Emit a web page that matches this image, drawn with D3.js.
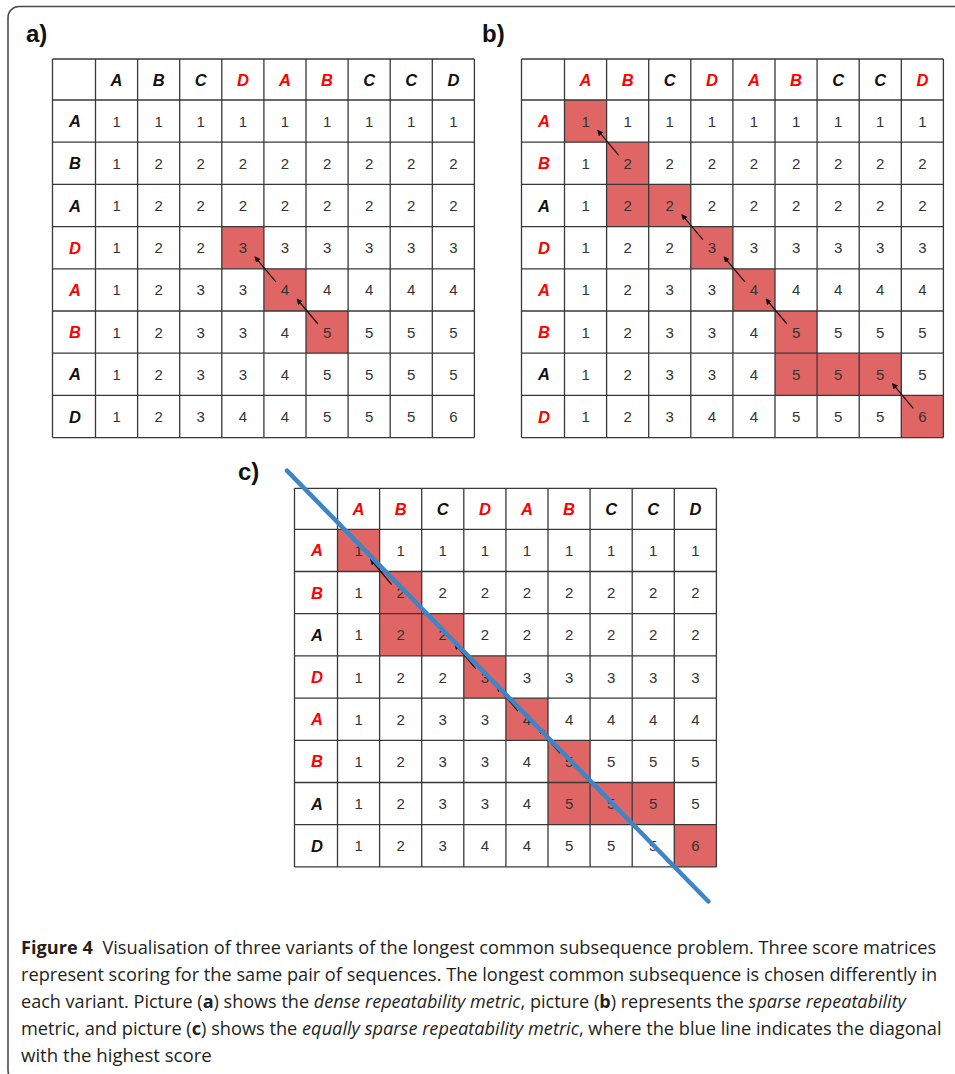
<!DOCTYPE html>
<html>
<head>
<meta charset="utf-8">
<script src="https://cdn.jsdelivr.net/npm/d3@7"></script>
<style>
  html, body { margin: 0; padding: 0; background: #fff; }
  svg { display: block; }
</style>
</head>
<body>
<svg id="fig" width="955" height="1074"></svg>
<script>
// Sequences compared in every score matrix
const colLetters = ["A", "B", "C", "D", "A", "B", "C", "C", "D"];
const rowLetters = ["A", "B", "A", "D", "A", "B", "A", "D"];

// LCS score matrix (rows × columns)
const scores = [
  [1, 1, 1, 1, 1, 1, 1, 1, 1],
  [1, 2, 2, 2, 2, 2, 2, 2, 2],
  [1, 2, 2, 2, 2, 2, 2, 2, 2],
  [1, 2, 2, 3, 3, 3, 3, 3, 3],
  [1, 2, 3, 3, 4, 4, 4, 4, 4],
  [1, 2, 3, 3, 4, 5, 5, 5, 5],
  [1, 2, 3, 3, 4, 5, 5, 5, 5],
  [1, 2, 3, 4, 4, 5, 5, 5, 6]
];

// Letters printed in red, per variant
const redColsA = [3, 4, 5];
const redRowsA = [3, 4, 5];
const redColsB = [0, 1, 3, 4, 5, 8];
const redRowsB = [0, 1, 3, 4, 5, 7];
const redColsC = [0, 1, 3, 4, 5];
const redRowsC = [0, 1, 3, 4, 5];

// Highlighted cells [row, col]
const cellsA = [[3, 3], [4, 4], [5, 5]];
const cellsB = [[0, 0], [1, 1], [2, 1], [2, 2], [3, 3], [4, 4], [5, 5], [6, 5], [6, 6], [6, 7], [7, 8]];
const cellsC = cellsB;

// Traceback arrows [fromRow, fromCol, toRow, toCol]
const arrowsA = [[4, 4, 3, 3], [5, 5, 4, 4]];
const arrowsB = [[1, 1, 0, 0], [3, 3, 2, 2], [4, 4, 3, 3], [5, 5, 4, 4], [7, 8, 6, 7]];
const arrowsC = [[1, 1, 0, 0], [3, 3, 2, 2], [4, 4, 3, 3], [5, 5, 4, 4]];

// Best diagonal in variant c, in grid units [col, row]
const diagonalC = [[-1.2, -1.39], [8.81, 8.82]];

const panelLabels = ["a)", "b)", "c)"];

const captionLines = [
  [["Figure 4", "b"], ["  Visualisation of three variants of the longest common subsequence problem. Three score matrices", ""]],
  [["represent scoring for the same pair of sequences. The longest common subsequence is chosen differently in", ""]],
  [["each variant. Picture (", ""], ["a", "b"], [") shows the ", ""], ["dense repeatability metric", "i"], [", picture (", ""], ["b", "b"], [") represents the ", ""], ["sparse repeatability", "i"]],
  [["metric, and picture (", ""], ["c", "b"], [") shows the ", ""], ["equally sparse repeatability metric", "i"], [", where the blue line indicates the diagonal", ""]],
  [["with the highest score", ""]]
];
const captionWidths = [916, 917, 886, 921, 191];

// ---------------------------------------------------------------
const svg = d3.select("#fig");
const RED = "#ff0000", FILL = "#e06666", GRID = "#383838";
const HDR_W = 43, HDR_H = 41, CW = 42.1, CH = 42.2;

svg.append("rect").attr("width", 955).attr("height", 1074).attr("fill", "#fff");

// outer figure frame
svg.append("rect")
  .attr("x", 8).attr("y", 6.5)
  .attr("width", 990).attr("height", 1075)
  .attr("rx", 11).attr("ry", 11)
  .attr("fill", "none").attr("stroke", "#4a4a4a").attr("stroke-width", 1.6);

const defs = svg.append("defs");
defs.append("marker")
  .attr("id", "head")
  .attr("viewBox", "0 0 10 10")
  .attr("refX", 9).attr("refY", 5)
  .attr("markerWidth", 6).attr("markerHeight", 6)
  .attr("markerUnits", "userSpaceOnUse")
  .attr("orient", "auto")
  .append("path").attr("d", "M0,0 L10,5 L0,10 Z").attr("fill", "#111");

function drawPanel(opt) {
  const g = svg.append("g");
  const nC = colLetters.length, nR = rowLetters.length;
  const x = d3.scaleLinear().domain([0, nC]).range([opt.x0 + HDR_W, opt.x0 + HDR_W + nC * CW]);
  const y = d3.scaleLinear().domain([0, nR]).range([opt.y0 + HDR_H, opt.y0 + HDR_H + nR * CH]);

  // highlighted cells
  g.selectAll("rect.hl").data(opt.cells).join("rect")
    .attr("class", "hl")
    .attr("x", d => x(d[1])).attr("y", d => y(d[0]))
    .attr("width", CW).attr("height", CH)
    .attr("fill", FILL);

  // column headers
  g.selectAll("text.ch").data(colLetters).join("text")
    .attr("class", "ch")
    .attr("x", (d, i) => x(i + 0.5))
    .attr("y", opt.y0 + HDR_H / 2 + 6)
    .attr("text-anchor", "middle")
    .attr("font-family", "Liberation Sans, Arial, sans-serif")
    .attr("font-weight", "bold").attr("font-style", "italic")
    .attr("font-size", 16.5)
    .attr("fill", (d, i) => opt.redCols.includes(i) ? RED : "#111")
    .text(d => d);

  // row headers
  g.selectAll("text.rh").data(rowLetters).join("text")
    .attr("class", "rh")
    .attr("x", opt.x0 + HDR_W / 2 + 1)
    .attr("y", (d, i) => y(i + 0.5) + 6)
    .attr("text-anchor", "middle")
    .attr("font-family", "Liberation Sans, Arial, sans-serif")
    .attr("font-weight", "bold").attr("font-style", "italic")
    .attr("font-size", 16.5)
    .attr("fill", (d, i) => opt.redRows.includes(i) ? RED : "#111")
    .text(d => d);

  // score values
  const flat = [];
  scores.forEach((row, r) => row.forEach((v, c) => flat.push({ r, c, v })));
  g.selectAll("text.v").data(flat).join("text")
    .attr("class", "v")
    .attr("x", d => x(d.c + 0.5))
    .attr("y", d => y(d.r + 0.5) + 5.5)
    .attr("text-anchor", "middle")
    .attr("font-family", "Liberation Sans, Arial, sans-serif")
    .attr("font-size", 15)
    .attr("fill", "#333")
    .text(d => d.v);

  // grid lines
  const xLines = [opt.x0].concat(d3.range(0, nC + 1).map(i => x(i)));
  const yLines = [opt.y0].concat(d3.range(0, nR + 1).map(i => y(i)));
  const top = opt.y0, bottom = y(nR), left = opt.x0, right = x(nC);
  g.selectAll("line.gx").data(xLines).join("line")
    .attr("x1", d => d).attr("x2", d => d).attr("y1", top).attr("y2", bottom)
    .attr("stroke", GRID).attr("stroke-width", 1.3);
  g.selectAll("line.gy").data(yLines).join("line")
    .attr("y1", d => d).attr("y2", d => d).attr("x1", left).attr("x2", right)
    .attr("stroke", GRID).attr("stroke-width", 1.3);

  // traceback arrows, crossing the shared cell corner
  g.selectAll("line.arr").data(opt.arrows).join("line")
    .attr("x1", d => x(d[1]) + 12).attr("y1", d => y(d[0]) + 13)
    .attr("x2", d => x(d[3] + 1) - 9).attr("y2", d => y(d[2] + 1) - 12)
    .attr("stroke", "#111").attr("stroke-width", 1.2)
    .attr("marker-end", "url(#head)");

  // panel label
  svg.append("text")
    .attr("x", opt.lx).attr("y", opt.ly)
    .attr("font-family", "Liberation Sans, Arial, sans-serif")
    .attr("font-weight", "bold").attr("font-size", 24)
    .attr("fill", "#111")
    .text(opt.label);

  return { g, x, y };
}

drawPanel({ x0: 52.5, y0: 59, cells: cellsA, arrows: arrowsA, redCols: redColsA, redRows: redRowsA, label: panelLabels[0], lx: 26, ly: 42 });
drawPanel({ x0: 521.5, y0: 59, cells: cellsB, arrows: arrowsB, redCols: redColsB, redRows: redRowsB, label: panelLabels[1], lx: 482, ly: 42 });
const pc = drawPanel({ x0: 294.5, y0: 488.3, cells: cellsC, arrows: arrowsC, redCols: redColsC, redRows: redRowsC, label: panelLabels[2], lx: 238, ly: 480 });

// best-scoring diagonal in variant c
pc.g.append("line")
  .attr("x1", pc.x(diagonalC[0][0])).attr("y1", pc.y(diagonalC[0][1]))
  .attr("x2", pc.x(diagonalC[1][0])).attr("y2", pc.y(diagonalC[1][1]))
  .attr("stroke", "#3d85c6").attr("stroke-width", 4.5)
  .attr("stroke-linecap", "round");

// caption
const cap = svg.append("g");
captionLines.forEach((parts, i) => {
  const t = cap.append("text")
    .attr("transform", `translate(21,${954 + i * 27})`)
    .attr("font-family", "Open Sans, Noto Sans, sans-serif")
    .attr("font-size", 18)
    .attr("fill", "#231f20")
    .attr("xml:space", "preserve")
    .style("white-space", "pre");
  parts.forEach(([s, f]) => {
    const ts = t.append("tspan").text(s);
    if (f === "b") ts.attr("font-weight", "bold");
    if (f === "i") ts.attr("font-style", "italic");
  });
  const w = t.node().getComputedTextLength();
  const sx = captionWidths[i] / w;
  t.attr("transform", `translate(21,${954 + i * 27}) scale(${sx},1)`);
});
</script>
</body>
</html>
